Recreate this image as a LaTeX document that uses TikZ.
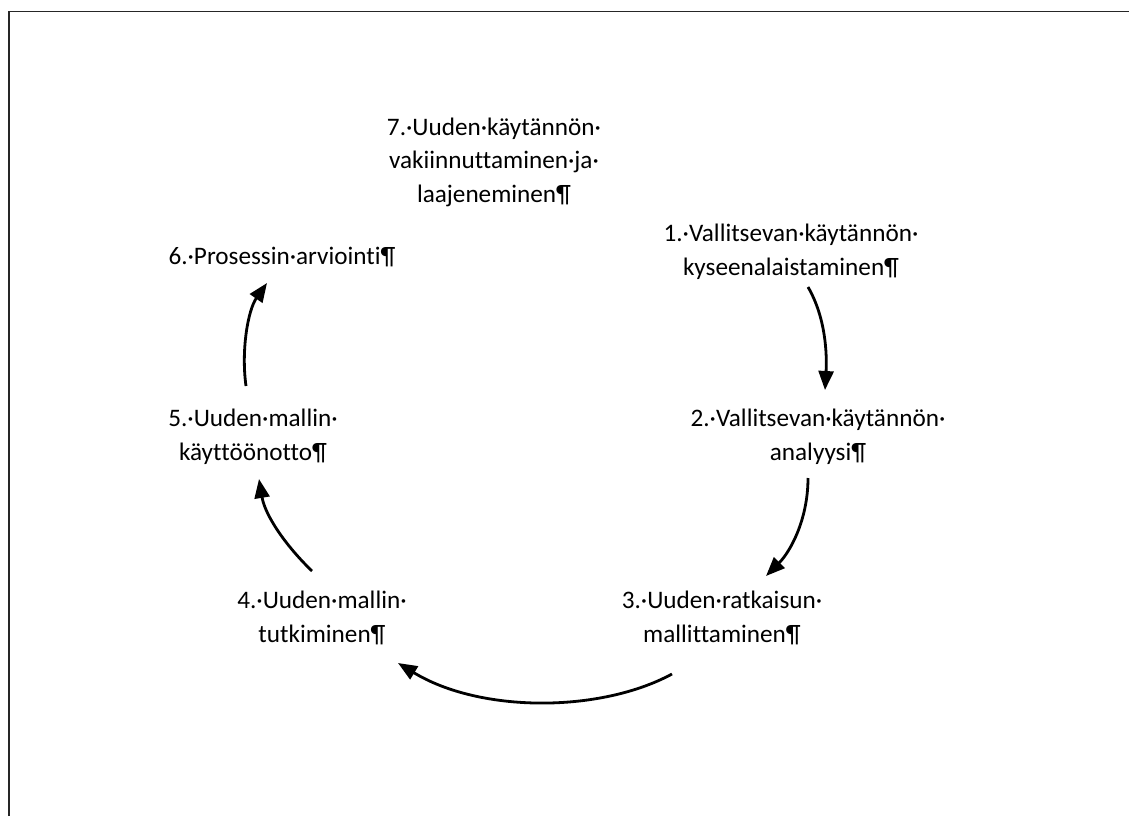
\documentclass[tikz,border=0pt]{standalone}
\usepackage{fontspec}
\setmainfont{Carlito}[Ligatures=NoCommon]
\usetikzlibrary{arrows.meta}
\begin{document}
\begin{tikzpicture}[x=1pt,y=-1pt,
  phase/.style={align=center,inner sep=0pt,font=\fontsize{25.2}{33.5}\selectfont},
  flow/.style={line width=2.8pt,-{Triangle[length=19pt,width=15pt]}}]
\useasboundingbox (0,0) rectangle (1129,816);
% page frame (left and top edges)
\draw[line width=1.8pt,black!85] (9,816) -- (9,11.5) -- (1129,11.5);

% phases of the cycle
\node[phase] (p7) at (494,162) {7.·Uuden·käytännön·\\vakiinnuttaminen·ja·\\laajeneminen¶};
\node[phase] (p1) at (791,252) {1.·Vallitsevan·käytännön·\\kyseenalaistaminen¶};
\node[phase] (p2) at (818,437) {2.·Vallitsevan·käytännön·\\analyysi¶};
\node[phase] (p3) at (722,618) {3.·Uuden·ratkaisun·\\mallittaminen¶};
\node[phase] (p4) at (322,618) {4.·Uuden·mallin·\\tutkiminen¶};
\node[phase] (p5) at (253,437) {5.·Uuden·mallin·\\käyttöönotto¶};
\node[phase] (p6) at (282,257) {6.·Prosessin·arviointi¶};

% arrow end points
\coordinate (a1s) at (808,287);
\coordinate (a1e) at (825,390);
\coordinate (a2s) at (808,478);
\coordinate (a2e) at (766,576);
\coordinate (a3s) at (672,674);
\coordinate (a3e) at (398,663);
\coordinate (a4s) at (312,571);
\coordinate (a4e) at (259,479);
\coordinate (a5s) at (246,386);
\coordinate (a5e) at (267,283);

\draw[flow] (a1s) .. controls (826,318) and (827,355) .. (a1e);
\draw[flow] (a2s) .. controls (808,520) and (790,552) .. (a2e);
\draw[flow] (a3s) .. controls (600,713) and (480,713) .. (a3e);
\draw[flow] (a4s) .. controls (285,545) and (265,515) .. (a4e);
\draw[flow] (a5s) .. controls (241,350) and (248,310) .. (a5e);
\end{tikzpicture}
\end{document}
